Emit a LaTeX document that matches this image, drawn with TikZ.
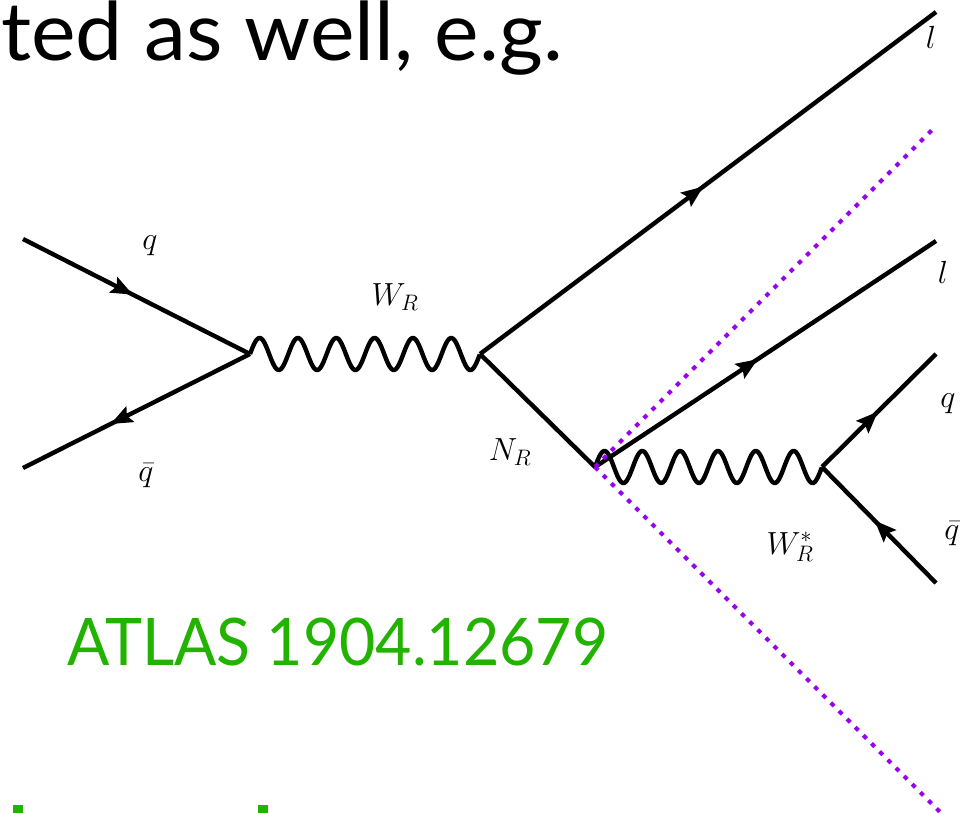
\documentclass[tikz,border=0pt]{standalone}
\usepackage{fix-cm}
\usepackage{fontspec}
\newfontfamily\slidefont{Lato}
\usetikzlibrary{decorations.markings}
\definecolor{slidegreen}{RGB}{34,178,0}
\definecolor{cutpurple}{RGB}{153,0,238}
\tikzset{
  fermion/.style={line width=4.4pt,
    postaction={decorate, decoration={markings,
      mark=at position #1 with {\fill (11pt,0pt) -- (-11pt,9pt) -- (-7pt,0pt) -- (-11pt,-9pt) -- cycle;}}}},
  fermion/.default=0.5,
  plainline/.style={line width=4.4pt},
  boson/.style={line width=4.4pt, line join=round},
  cutline/.style={cutpurple, line width=4.2pt, dash pattern=on 4.5pt off 7pt},
  lbl/.style={inner sep=0pt, font=\fontsize{32}{38}\selectfont}
}
\begin{document}
\begin{tikzpicture}[x=1pt,y=-1pt]
\useasboundingbox (0,0) rectangle (963,813);
\begin{scope}
\clip (0,0) rectangle (963,813);
% slide text
\node[anchor=base west, inner sep=0pt, font=\slidefont\fontsize{81}{90}\selectfont] (title) at (1,61) {\scalebox{1.04}[1]{ted as well, e.g.}};
\node[anchor=base west, inner sep=0pt, text=slidegreen, font=\slidefont\fontsize{65.6}{75}\selectfont] (ref) at (67,665) {\scalebox{0.955}[1]{ATLAS 1904.12679}};
% fragments of the next (cut) line of slide text
\fill[slidegreen] (13,805) rectangle (22.5,814);
\fill[slidegreen] (258,805) rectangle (267.5,814);
\fill[slidegreen] (655,814) arc[start angle=180,end angle=0,x radius=6,y radius=5] -- cycle;

% vertices and external points
\coordinate (qin) at (23,239);
\coordinate (qbin) at (23,468);
\coordinate (v1) at (250,354);
\coordinate (v2) at (480,354);
\coordinate (l1) at (936,12);
\coordinate (v3) at (595,467);
\coordinate (l2) at (936,241);
\coordinate (v4) at (822,467);
\coordinate (qout) at (936,354);
\coordinate (qbout) at (936,583);
\coordinate (cutA) at (936,126);
\coordinate (cutB) at (943,815);

% lines
\draw[fermion=0.44] (qin) -- (v1);
\draw[fermion=0.57] (v1) -- (qbin);
\draw[boson, shift={(v1)}] plot[domain=0:1, samples=300, smooth] ({230*\x},{-16*sin(2160*\x)});
\draw[fermion=0.47] (v2) -- (l1);
\draw[plainline] (v2) -- (v3);
\draw[fermion=0.45] (v3) -- (l2);
\draw[boson, shift={(v3)}] plot[domain=0:1, samples=300, smooth] ({227*\x},{-16*sin(2160*\x)});
\draw[fermion=0.42] (v4) -- (qout);
\draw[fermion=0.47] (qbout) -- (v4);

% cut lines
\draw[cutline] (v3) -- (cutA);
\draw[cutline] (v3) -- (cutB);

% labels
\node[lbl] (lq) at (150,246) {$q$};
\node[lbl] (lqb) at (146,476) {$\bar q$};
\node[lbl] (lwr) at (395,297) {$W_R$};
\node[lbl] (lnr) at (510,452) {$N_R$};
\node[lbl] (lwrs) at (790,547) {$W_R^*$};
\node[lbl] (ll1) at (931,37) {$l$};
\node[lbl] (ll2) at (943,272) {$l$};
\node[lbl] (lq2) at (948,404) {$q$};
\node[lbl] (lqb2) at (952,534) {$\bar q$};
\end{scope}
\end{tikzpicture}
\end{document}
